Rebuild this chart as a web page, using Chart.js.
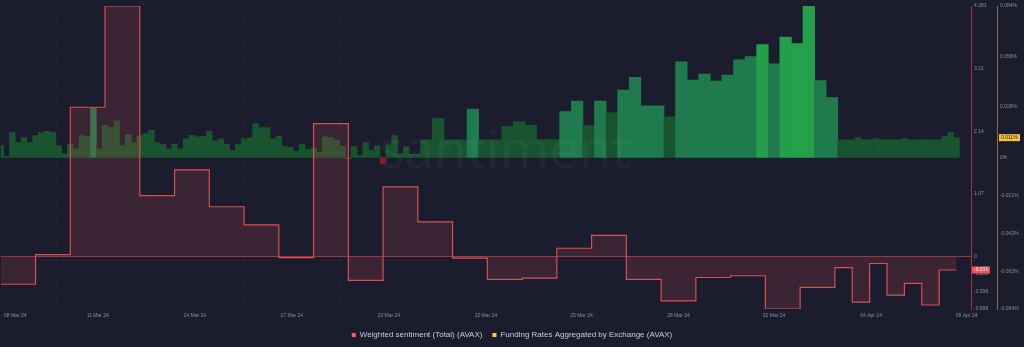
<!DOCTYPE html>
<html>
<head>
<meta charset="utf-8">
<script src="https://cdn.jsdelivr.net/npm/chart.js@4.4.1/dist/chart.umd.min.js"></script>
<style>
  html, body { margin: 0; padding: 0; background: #1b1d2e; }
  #wrap { width: 1024px; height: 347px; position: relative; }
</style>
</head>
<body>
<div id="wrap"><canvas id="sentimentFundingChart"></canvas></div>
<script>
// hours since the start of the window (08 Mar 24)
const sentimentHours = [0, 24, 48, 72, 96, 120, 144, 168, 192, 216, 240, 264, 288, 312, 336, 360,
  384, 408, 432, 456, 480, 504, 528, 552, 576, 588, 600, 612, 624, 636, 648, 660];
const sentimentValues = [-0.475, 0.03, 2.55, 4.281, 1.04, 1.48, 0.85, 0.54, -0.02, 2.27, -0.41, 1.19,
  0.59, -0.03, -0.39, -0.37, 0.14, 0.36, -0.39, -0.76, -0.36, -0.33, -0.898, -0.53, -0.19, -0.78,
  -0.12, -0.66, -0.46, -0.83, -0.231, -0.231];

// funding rate in %, one value every 4 hours
const fundingStartHour = 0;
const fundingStepHours = 4;
const fundingRates = [
  0.0066, 0.0006, 0.0138, 0.0083, 0.0111, 0.0083, 0.0122, 0.0138, 0.0145, 0.0140,
  0.0066, 0.0020, 0.0073, 0.0048, 0.0122, 0.0116, 0.0276, 0.0048, 0.0178, 0.0167,
  0.0204, 0.0066, 0.0127, 0.0083, 0.0122, 0.0133, 0.0151, 0.0083, 0.0073, 0.0046,
  0.0073, 0.0048, 0.0103, 0.0123, 0.0114, 0.0118, 0.0145, 0.0092, 0.0103, 0.0073,
  0.0039, 0.0073, 0.0103, 0.0109, 0.0186, 0.0166, 0.0166, 0.0103, 0.0118, 0.0062,
  0.0055, 0.0033, 0.0073, 0.0044, 0.0054, 0.0029, 0.0114, 0.0111, 0.0096, 0.0062,
  -0.0006, 0.0061, 0.0011, 0.0083, 0.0040, 0.0065, -0.0033, 0.0070, 0.0122, 0.0022,
  0.0059, 0.0017, 0.0017, 0.0098, 0.0098, 0.0216, 0.0216, 0.0098, 0.0098, 0.0098,
  0.0098, 0.0269, 0.0269, 0.0098, 0.0098, 0.0098, 0.0098, 0.0171, 0.0171, 0.0199,
  0.0199, 0.0178, 0.0178, 0.0100, 0.0100, 0.0100, 0.0100, 0.0254, 0.0254, 0.0313,
  0.0313, 0.0177, 0.0177, 0.0313, 0.0313, 0.0249, 0.0249, 0.0374, 0.0374, 0.0444,
  0.0444, 0.0286, 0.0286, 0.0286, 0.0286, 0.0225, 0.0225, 0.0531, 0.0531, 0.0429,
  0.0429, 0.0463, 0.0463, 0.0424, 0.0424, 0.0457, 0.0457, 0.0542, 0.0542, 0.0560,
  0.0560, 0.0626, 0.0626, 0.0519, 0.0519, 0.0667, 0.0667, 0.0632, 0.0632, 0.0840,
  0.0840, 0.0427, 0.0427, 0.0332, 0.0332, 0.0098, 0.0098, 0.0098, 0.0111, 0.0098,
  0.0098, 0.0105, 0.0098, 0.0098, 0.0098, 0.0098, 0.0105, 0.0098, 0.0098, 0.0098,
  0.0098, 0.0098, 0.0100, 0.0116, 0.0140, 0.0110
];

const xTickHours = [10, 67, 134, 201, 268, 335, 401, 468, 534, 601, 667];
const xTickLabels = ['08 Mar 24', '11 Mar 24', '14 Mar 24', '17 Mar 24', '20 Mar 24', '22 Mar 24',
  '25 Mar 24', '28 Mar 24', '31 Mar 24', '04 Apr 24', '09 Apr 24'];
const sentimentTicks = [4.281, 3.21, 2.14, 1.07, 0, -0.299, -0.598, -0.898];
const fundingTicks = [0.084, 0.056, 0.028, 0, -0.021, -0.042, -0.063, -0.084];

const sentimentLabel = 'Weighted sentiment (Total) (AVAX)';
const fundingLabel = 'Funding Rates Aggregated by Exchange (AVAX)';

const tickColor = '#8b8fa1';
Chart.defaults.font.family = '"Liberation Sans", Arial, sans-serif';

const sentimentPoints = sentimentHours.map((h, i) => ({ x: h, y: sentimentValues[i] }));
const fundingPoints = fundingRates.map((v, i) => ({ x: fundingStartHour + i * fundingStepHours, y: v }));

function fundingColor(v) {
  if (v < 0) return '#8a1c26';
  if (v >= 0.058) return '#23a049';
  if (v >= 0.025) return '#1f7a4e';
  return '#19542f';
}

const overlayPlugin = {
  id: 'overlay',
  afterDatasetsDraw(chart) {
    const { ctx, chartArea } = chart;
    const ySent = chart.scales.ySent;
    ctx.save();
    // zero line of the sentiment area
    const y0 = Math.round(ySent.getPixelForValue(0)) + 0.5;
    ctx.strokeStyle = 'rgba(214,80,84,0.6)';
    ctx.lineWidth = 1;
    ctx.beginPath();
    ctx.moveTo(chartArea.left, y0);
    ctx.lineTo(chartArea.right, y0);
    ctx.stroke();
    // watermark
    ctx.fillStyle = 'rgba(255,255,255,0.035)';
    ctx.font = '53px "Noto Sans", sans-serif';
    ctx.textAlign = 'center';
    ctx.textBaseline = 'alphabetic';
    ctx.fillText('santiment', 505, 168);
    ctx.restore();
  },
  afterDraw(chart) {
    const { ctx } = chart;
    const ySent = chart.scales.ySent;
    const yFund = chart.scales.yFund;
    const lastSent = sentimentValues[sentimentValues.length - 1];
    const lastFund = fundingRates[fundingRates.length - 1];
    ctx.save();
    ctx.font = '5px "Liberation Sans", Arial, sans-serif';
    ctx.textBaseline = 'middle';
    ctx.textAlign = 'left';
    let y = ySent.getPixelForValue(lastSent);
    ctx.fillStyle = '#f25252';
    ctx.fillRect(ySent.left + 1, y - 3.5, 18, 7);
    ctx.fillStyle = '#ffffff';
    ctx.fillText(String(lastSent), ySent.left + 3, y);
    y = yFund.getPixelForValue(lastFund);
    ctx.fillStyle = '#f5c242';
    ctx.fillRect(yFund.left + 2, y - 3.5, 21, 7);
    ctx.fillStyle = '#1b1d2e';
    ctx.fillText(lastFund.toFixed(3) + '%', yFund.left + 4, y);
    ctx.restore();
  }
};

const context = document.getElementById('sentimentFundingChart').getContext('2d');
new Chart(context, {
  type: 'bar',
  data: {
    datasets: [{
      type: 'line',
      label: sentimentLabel,
      data: sentimentPoints,
      yAxisID: 'ySent',
      stepped: true,
      fill: 'origin',
      borderColor: '#d9504f',
      borderWidth: 1.2,
      backgroundColor: 'rgba(220,70,80,0.17)',
      pointRadius: 0,
      order: 0
    }, {
      type: 'bar',
      label: fundingLabel,
      data: fundingPoints,
      yAxisID: 'yFund',
      backgroundColor: c => fundingColor(c.raw ? c.raw.y : 0),
      borderWidth: 0,
      barPercentage: 1,
      categoryPercentage: 1,
      order: 1
    }]
  },
  options: {
    animation: false,
    responsive: true,
    maintainAspectRatio: false,
    layout: { padding: { top: 4, bottom: -2, left: 0, right: 0 } },
    plugins: {
      tooltip: { enabled: false },
      legend: {
        position: 'bottom',
        labels: {
          boxWidth: 4,
          boxHeight: 4,
          padding: 10,
          color: '#c9cbd6',
          font: { size: 8 },
          generateLabels: () => [
            { text: sentimentLabel, fillStyle: '#ff5b5b', strokeStyle: '#ff5b5b', lineWidth: 0, hidden: false, datasetIndex: 0, fontColor: '#c9cbd6' },
            { text: fundingLabel, fillStyle: '#ffc83d', strokeStyle: '#ffc83d', lineWidth: 0, hidden: false, datasetIndex: 1, fontColor: '#c9cbd6' }
          ]
        }
      }
    },
    scales: {
      x: {
        type: 'linear',
        min: 0,
        max: 670,
        offset: false,
        afterBuildTicks: s => { s.ticks = xTickHours.map(v => ({ value: v })); },
        afterFit: s => { s.height -= 2; },
        ticks: {
          autoSkip: false,
          maxRotation: 0,
          padding: 4,
          color: tickColor,
          font: { size: 5 },
          callback: (v, i) => xTickLabels[i]
        },
        grid: { color: 'rgba(255,255,255,0.05)', drawTicks: false },
        border: { display: false, dash: [2, 3] }
      },
      ySent: {
        type: 'linear',
        position: 'right',
        weight: 0,
        min: -0.898,
        max: 4.281,
        afterBuildTicks: s => { s.ticks = sentimentTicks.map(v => ({ value: v })); },
        afterFit: s => { s.width = 26; },
        ticks: { autoSkip: false, padding: 3, color: tickColor, font: { size: 5 }, callback: v => String(v) },
        grid: { display: false, drawTicks: false },
        border: { display: true, color: 'rgba(190,55,65,0.85)', width: 1 }
      },
      yFund: {
        type: 'linear',
        position: 'right',
        weight: 1,
        min: -0.084,
        max: 0.084,
        afterBuildTicks: s => { s.ticks = fundingTicks.map(v => ({ value: v })); },
        afterFit: s => { s.width = 27; },
        ticks: { autoSkip: false, padding: 3, color: tickColor, font: { size: 5 }, callback: v => v + '%' },
        grid: { display: false, drawTicks: false },
        border: { display: true, color: 'rgba(150,125,55,0.9)', width: 1 }
      }
    }
  },
  plugins: [overlayPlugin]
});
</script>
</body>
</html>
